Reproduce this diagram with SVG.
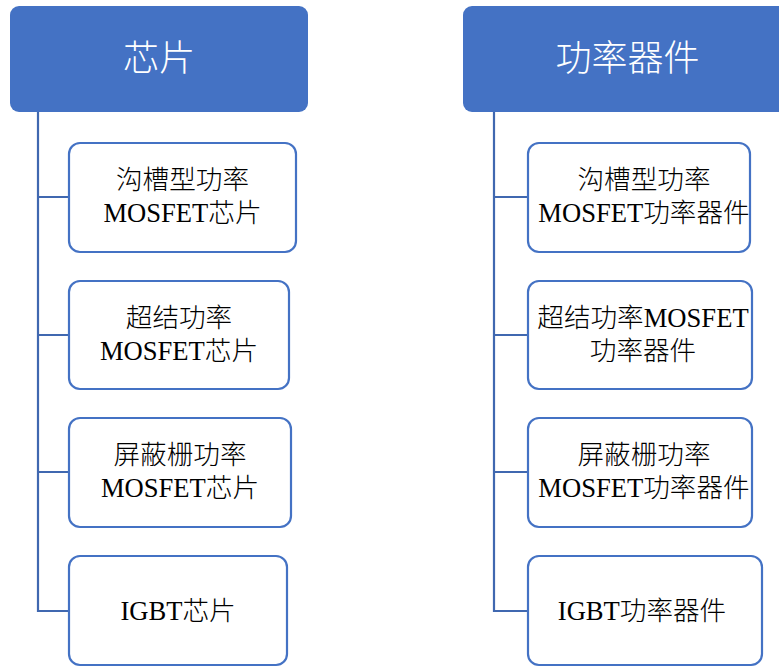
<svg xmlns="http://www.w3.org/2000/svg" width="779" height="668" viewBox="0 0 779 668">
<style>
.hdr{fill:#4472C4;}
.hdrt{fill:#ffffff;font-family:"Noto Sans CJK SC",sans-serif;font-size:36px;font-weight:300;text-anchor:middle;}
.box{fill:#ffffff;stroke:#4472C4;stroke-width:2.2;}
.t{fill:#000000;font-family:"Liberation Serif","Noto Sans CJK SC",serif;font-size:26.6px;font-weight:300;text-anchor:middle;}
.c{fill:none;stroke:#4068B0;stroke-width:2.2;}
</style>
<rect width="779" height="668" fill="#ffffff"/>
<g id="connectors">
<path class="c" d="M38 112 V611 H69 M38 197 H69 M38 335 H69 M38 472 H69"/>
<path class="c" d="M494 112 V611 H528 M494 197 H528 M494 335 H528 M494 472 H528"/>
</g>
<g id="hdr-chip">
<rect class="hdr" x="10" y="6" width="298" height="106" rx="9"/>
<text class="hdrt" x="159" y="71">芯片</text>
</g>
<g id="hdr-device">
<rect class="hdr" x="463" y="6" width="330" height="106" rx="9"/>
<text class="hdrt" x="627.5" y="71">功率器件</text>
</g>
<g id="chip1">
<rect class="box" x="69" y="143" width="227" height="109" rx="11"/>
<text class="t" x="182.5" y="189">沟槽型功率</text>
<text class="t" x="182.5" y="222">MOSFET芯片</text>
</g>
<g id="chip2">
<rect class="box" x="69" y="281" width="220" height="108" rx="11"/>
<text class="t" x="179" y="327">超结功率</text>
<text class="t" x="179" y="360">MOSFET芯片</text>
</g>
<g id="chip3">
<rect class="box" x="69" y="418" width="222" height="109" rx="11"/>
<text class="t" x="180" y="464">屏蔽栅功率</text>
<text class="t" x="180" y="497">MOSFET芯片</text>
</g>
<g id="chip4">
<rect class="box" x="69" y="556" width="218" height="109" rx="11"/>
<text class="t" x="178" y="620">IGBT芯片</text>
</g>
<g id="dev1">
<rect class="box" x="528" y="143" width="222" height="109" rx="11"/>
<text class="t" x="644" y="189">沟槽型功率</text>
<text class="t" x="644" y="222">MOSFET功率器件</text>
</g>
<g id="dev2">
<rect class="box" x="528" y="281" width="224" height="108" rx="11"/>
<text class="t" x="643" y="327">超结功率MOSFET</text>
<text class="t" x="643" y="360">功率器件</text>
</g>
<g id="dev3">
<rect class="box" x="528" y="418" width="224" height="109" rx="11"/>
<text class="t" x="644" y="464">屏蔽栅功率</text>
<text class="t" x="644" y="497">MOSFET功率器件</text>
</g>
<g id="dev4">
<rect class="box" x="528" y="556" width="234" height="109" rx="11"/>
<text class="t" x="642" y="620">IGBT功率器件</text>
</g>
</svg>
